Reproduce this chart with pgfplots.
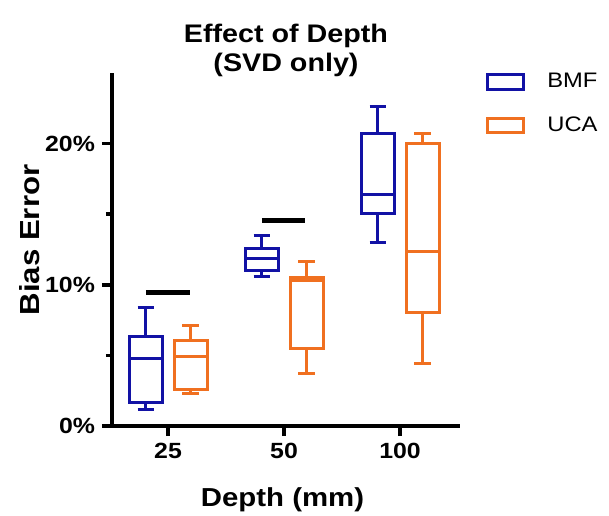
\documentclass[border=0pt]{standalone}
\usepackage{fontspec}
\setmainfont{Liberation Sans}[FakeStretch=1.13]
\usepackage{pgfplots}
\pgfplotsset{compat=1.18}
\usepgfplotslibrary{statistics}

\definecolor{bmf}{RGB}{18,18,165}
\definecolor{uca}{RGB}{240,112,32}

\begin{document}
\begin{tikzpicture}
% page size matches the 609x515 reference (1px = 0.5pt), axis box at origin
\path[use as bounding box] (-56pt,-44.5pt) rectangle (248.5pt,213pt);
\begin{axis}[
  scale only axis,
  width=174pt, height=176.5pt,
  xmin=-0.483, xmax=2.517,
  ymin=0, ymax=25,
  axis x line=bottom, axis y line=left,
  axis line style={line width=1.8pt, -},
  tick style={black, line width=1.8pt},
  tick align=outside,
  major tick length=5pt, minor tick length=3pt,
  xtick={0,1,2}, xticklabels={25,50,100},
  ytick={0,10,20}, yticklabels={0\%,10\%,20\%},
  minor ytick={5,15},
  ticklabel style={font=\bfseries\fontsize{11}{12}\selectfont},
  title={Effect of Depth\\(SVD only)},
  title style={at={(0.5,1)}, anchor=south, yshift=-11.5pt, align=center,
    font=\bfseries\fontsize{12.7}{14.6}\selectfont},
  xlabel={Depth (mm)},
  ylabel={Bias Error},
  every axis y label/.style={at={([xshift=-41pt]axis description cs:0,0.527)},
    rotate=90, anchor=center, font=\bfseries\fontsize{13.8}{15}\selectfont},
  every axis x label/.style={at={([yshift=-37pt]axis description cs:0.49,0)},
    anchor=center, font=\bfseries\fontsize{13}{15}\selectfont},
  boxplot/draw direction=y,
  boxplot/box extend=0.285,
  boxplot/whisker extend=0.145,
  legend image code/.code={\draw[#1] (0pt,-3.6pt) rectangle (18pt,3.6pt); \path (27pt,0pt);},
  legend style={at={(axis description cs:1,1)}, anchor=north west,
    xshift=10pt, yshift=4pt, draw=none, fill=none,
    font=\fontsize{10.5}{12}\selectfont, row sep=9pt},
  legend cell align=left,
  clip=false,
]
% BMF
\addplot[forget plot, draw=bmf, line width=1.5pt, boxplot prepared={draw position=-0.19,
  lower whisker=1.16, lower quartile=1.70, median=4.77, upper quartile=6.35, upper whisker=8.36}]
  coordinates {};
\addplot[forget plot, draw=bmf, line width=1.5pt, boxplot prepared={draw position=0.81,
  lower whisker=10.62, lower quartile=11.03, median=11.85, upper quartile=12.60, upper whisker=13.46}]
  coordinates {};
\addplot[forget plot, draw=bmf, line width=1.5pt, boxplot prepared={draw position=1.81,
  lower whisker=13.03, lower quartile=15.04, median=16.39, upper quartile=20.75, upper whisker=22.60}]
  coordinates {};
% UCA
\addplot[forget plot, draw=uca, line width=1.5pt, boxplot prepared={draw position=0.195,
  lower whisker=2.29, lower quartile=2.58, median=4.94, upper quartile=6.07, upper whisker=7.13}]
  coordinates {};
\addplot[forget plot, draw=uca, line width=1.5pt, boxplot prepared={draw position=1.195,
  lower whisker=3.71, lower quartile=5.48, median=10.27, upper quartile=10.55, upper whisker=11.62}]
  coordinates {};
\addplot[forget plot, draw=uca, line width=1.5pt, boxplot prepared={draw position=2.195,
  lower whisker=4.46, lower quartile=8.07, median=12.39, upper quartile=20.00, upper whisker=20.71}]
  coordinates {};
% significance bars
\addplot[forget plot, black, line width=2.5pt] coordinates {(-0.19,9.49) (0.19,9.49)};
\addplot[forget plot, black, line width=2.5pt] coordinates {(0.81,14.57) (1.18,14.57)};
% legend
\addlegendimage{draw=bmf, line width=1.5pt}
\addlegendentry{BMF}
\addlegendimage{draw=uca, line width=1.5pt}
\addlegendentry{UCA}
\end{axis}
\end{tikzpicture}
\end{document}
